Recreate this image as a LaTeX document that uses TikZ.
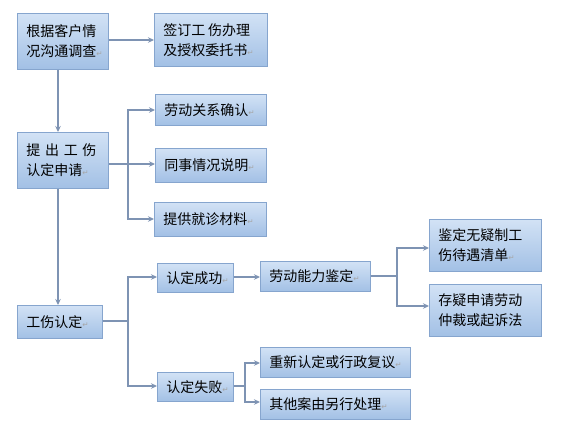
\documentclass[tikz,border=0pt]{standalone}
\usepackage{fontspec}
\newfontfamily\cjk{Noto Sans CJK SC}
\newfontfamily\markfont{DejaVu Sans}
\usetikzlibrary{arrows.meta}
\definecolor{boxtop}{HTML}{D2E2F5}
\definecolor{boxbot}{HTML}{A2C0E5}
\definecolor{boxline}{HTML}{86A5CE}
\definecolor{conn}{HTML}{7E93B3}
\newcommand{\pmark}{{\markfont\fontsize{7.5}{7.5}\selectfont\textcolor{black!35}{↵}}}
\tikzset{
  fbox/.style={draw=boxline, line width=0.9pt, top color=boxtop, bottom color=boxbot,
    rectangle, anchor=north west, inner xsep=9pt, inner ysep=0pt, align=left,
    font=\cjk\fontsize{14}{20}\selectfont},
  arr/.style={draw=conn, line width=1.2pt, -{Stealth[length=6pt,width=5.5pt]}},
  ln/.style={draw=conn, line width=1.2pt},
}
\newcommand{\fb}[6]{\node[fbox, text width=#4-#2-18pt, minimum height=#5-#3] (#1) at (#2,#3) {#6};}
\begin{document}
\begin{tikzpicture}[x=1pt,y=-1pt]
\useasboundingbox (0,0) rectangle (587,445);
\fb{A}{17}{13}{108}{69}{根据客户情\\况沟通调查\pmark}
\fb{B}{154}{13}{267}{66}{签订工\hspace{0.2em}伤办理\\及授权委托书\pmark}
\fb{C}{155}{94}{266}{125}{劳动关系确认\pmark}
\fb{D}{17}{132}{108}{188}{\makebox[5em][s]{提\hfill 出\hfill 工\hfill 伤}\\认定申请\pmark}
\fb{E}{155}{148}{266}{182}{同事情况说明\pmark}
\fb{F}{154}{202}{266}{236}{提供就诊材料\pmark}
\fb{G}{17}{305}{102}{338}{工伤认定\pmark}
\fb{H}{157}{263}{233}{292}{认定成功\pmark}
\fb{I}{157}{372}{233}{401}{认定失败\pmark}
\fb{J}{260}{261}{370}{291}{劳动能力鉴定\pmark}
\fb{K}{429}{219}{541}{271}{鉴定无疑制工\\伤待遇清单\pmark}
\fb{L}{429}{284}{541}{336}{存疑申请劳动\\仲裁或起诉法}
\fb{M}{260}{347}{410}{377}{重新认定或行政复议\pmark}
\fb{N}{260}{389}{410}{419}{其他案由另行处理\pmark}

\coordinate (jD) at (128,164);
\coordinate (jG) at (128,321);
\coordinate (jJ) at (397,276);
\coordinate (jI) at (245,386);

\draw[arr] (A.east |- 0,40) -- (B.west |- 0,40);
\draw[arr] (58,0 |- A.south) -- (58,0 |- D.north);
\draw[arr] (58,0 |- D.south) -- (58,0 |- G.north);

\draw[ln] (D.east |- jD) -- (jD);
\draw[arr] (jD) |- (C.west |- 0,110);
\draw[arr] (jD) -- (E.west |- jD);
\draw[arr] (jD) |- (F.west |- 0,219);

\draw[ln] (G.east |- jG) -- (jG);
\draw[arr] (jG) |- (H.west |- 0,277);
\draw[arr] (jG) |- (I.west |- 0,386);

\draw[arr] (H.east |- 0,277) -- (J.west |- 0,277);

\draw[ln] (J.east |- jJ) -- (jJ);
\draw[arr] (jJ) |- (K.west |- 0,248);
\draw[arr] (jJ) |- (L.west |- 0,306);

\draw[ln] (I.east |- jI) -- (jI);
\draw[arr] (jI) |- (M.west |- 0,363);
\draw[arr] (jI) |- (N.west |- 0,402);
\end{tikzpicture}
\end{document}
